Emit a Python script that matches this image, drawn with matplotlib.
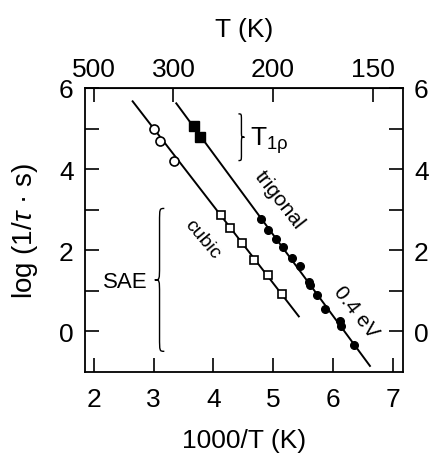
"""Relaxation rates vs inverse temperature, cubic and trigonal phases."""

import numpy as np
import matplotlib
matplotlib.use("Agg")
import matplotlib.pyplot as plt
from matplotlib.path import Path
from matplotlib.patches import PathPatch

plt.rcParams["font.family"] = ["Liberation Sans", "DejaVu Sans"]
plt.rcParams["mathtext.fontset"] = "custom"
plt.rcParams["mathtext.rm"] = "Liberation Sans"
plt.rcParams["mathtext.it"] = "Liberation Sans:italic"

# cubic phase, SAE (open symbols)
cubic_circ_x = [3.00, 3.10, 3.35]
cubic_circ_y = [5.00, 4.70, 4.21]
cubic_sq_x = [4.12, 4.28, 4.48, 4.68, 4.92, 5.15]
cubic_sq_y = [2.88, 2.54, 2.19, 1.77, 1.38, 0.91]
cubic_fit_x = [2.65, 5.43]
cubic_fit_y = [5.67, 0.37]

# trigonal phase (filled symbols)
trig_sq_x = [3.68, 3.78]
trig_sq_y = [5.07, 4.80]
trig_circ_x = [4.80, 4.92, 5.05, 5.17, 5.32, 5.45, 5.60, 5.62,
               5.73, 5.87, 6.12, 6.13, 6.35]
trig_circ_y = [2.76, 2.51, 2.27, 2.09, 1.80, 1.60, 1.23, 1.14,
               0.89, 0.55, 0.25, 0.13, -0.34]
trig_fit_x = [3.38, 6.62]
trig_fit_y = [5.62, -0.85]

top_ticks_T = [500, 300, 200, 150]


def draw_brace(ax, x, y0, y1, w, h):
    # w > 0 gives "{" (tip to the left), w < 0 gives "}"
    ym = (y0 + y1) / 2
    verts = [
        (x + w, y1), (x, y1), (x, y1), (x, y1 - h),
        (x, ym + h),
        (x, ym), (x, ym), (x - w, ym),
        (x, ym), (x, ym), (x, ym - h),
        (x, y0 + h),
        (x, y0), (x, y0), (x + w, y0),
    ]
    codes = [Path.MOVETO, Path.CURVE4, Path.CURVE4, Path.CURVE4,
             Path.LINETO,
             Path.CURVE4, Path.CURVE4, Path.CURVE4,
             Path.CURVE4, Path.CURVE4, Path.CURVE4,
             Path.LINETO,
             Path.CURVE4, Path.CURVE4, Path.CURVE4]
    ax.add_patch(PathPatch(Path(verts, codes), fill=False, lw=1.0,
                           edgecolor="black"))


fig = plt.figure(figsize=(4.35, 4.56), dpi=100)
ax = fig.add_axes([0.195, 0.182, 0.731, 0.623])

ax.plot(cubic_fit_x, cubic_fit_y, color="black", lw=1.4)
ax.plot(trig_fit_x, trig_fit_y, color="black", lw=1.4)

ax.plot(cubic_circ_x, cubic_circ_y, "o", ms=6.5, mfc="white", mec="black", mew=1.2)
ax.plot(cubic_sq_x, cubic_sq_y, "s", ms=6, mfc="white", mec="black", mew=1.2)
ax.plot(trig_sq_x, trig_sq_y, "s", ms=6.5, mfc="black", mec="black")
ax.plot(trig_circ_x, trig_circ_y, "o", ms=5.5, mfc="black", mec="black")

ax.set_xlim(1.85, 7.17)
ax.set_ylim(-1, 6)
ax.set_xticks([2, 3, 4, 5, 6, 7])
ax.set_yticks([0, 2, 4, 6])
ax.set_yticks([1, 3, 5], minor=True)
ax.tick_params(which="both", direction="in", length=10, width=1.2,
               labelsize=19, right=True, labelright=True)
ax.tick_params(axis="x", pad=11)
ax.tick_params(axis="y", pad=8)
for s in ax.spines.values():
    s.set_linewidth(1.3)

top = ax.secondary_xaxis("top", functions=(lambda x: 1000 / x, lambda t: 1000 / t))
top.set_xticks(top_ticks_T)
top.tick_params(direction="in", length=10, width=1.2, labelsize=19, pad=5)
top.set_xlabel("T (K)", fontsize=19, labelpad=15)

ax.set_xlabel("1000/T (K)", fontsize=19, labelpad=12)
ax.set_ylabel(r"log (1/$\mathit{τ}$ · s)", fontsize=20, labelpad=14)

ax.text(2.52, 1.23, "SAE", fontsize=16, ha="center", va="center")
ax.text(3.82, 2.29, "cubic", fontsize=14, ha="center", va="center", rotation=-50)
ax.text(5.10, 3.27, "trigonal", fontsize=15, ha="center", va="center", rotation=-52)
ax.text(6.38, 0.50, "0.4 eV", fontsize=15, ha="center", va="center", rotation=-52)
ax.text(4.62, 4.72, r"T$_{\mathrm{1ρ}}$", fontsize=19, ha="left", va="center")

draw_brace(ax, 3.10, -0.49, 3.03, 0.08, 0.35)
draw_brace(ax, 4.47, 4.21, 5.36, -0.05, 0.15)

fig.savefig("out.png", dpi=100)
